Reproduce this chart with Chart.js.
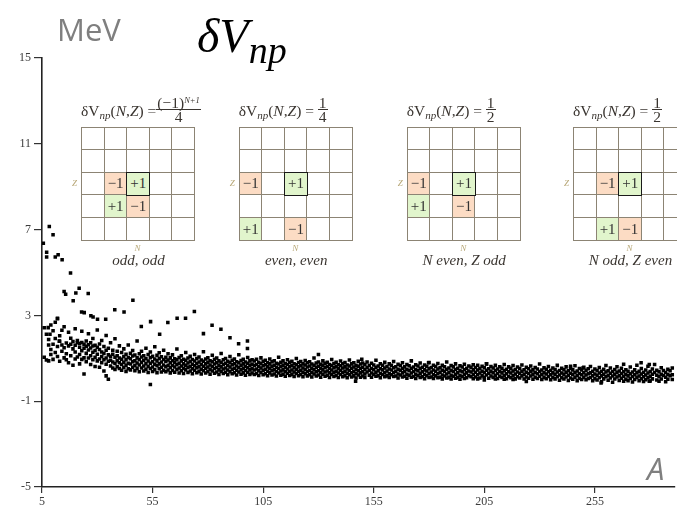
<!DOCTYPE html>
<html>
<head>
<meta charset="utf-8">
<script src="https://cdn.jsdelivr.net/npm/chart.js@4.4.1/dist/chart.umd.min.js"></script>
<style>
html,body{margin:0;padding:0;background:#fff}
#wrap{position:relative;width:677px;height:512px;overflow:hidden;background:#fff}
#plot{position:absolute;left:0;top:0}
.lbl{position:absolute;white-space:nowrap;line-height:1}
.unit{font-family:'Open Sans',sans-serif;font-size:31px;color:#7f7f7f}
.title{font-family:'Liberation Serif',serif;font-style:italic;font-size:48px;color:#000}
.title sub{font-size:38px;vertical-align:-11px}
.axisA{font-family:'Open Sans',sans-serif;font-style:italic;font-size:31px;color:#7f7f7f}
.fx{position:absolute;font:15.5px 'Liberation Serif',serif;color:#3a3530;white-space:nowrap;line-height:1;z-index:5}
.fx sub{font-size:11px;font-style:italic;vertical-align:-3px}
.frac{display:inline-block;vertical-align:-6.5px;text-align:center;line-height:0.85}
.frac .num{display:block;border-bottom:1px solid #3a3530;padding:0 1px}
.frac .num sup{font-size:8.5px;font-style:italic;vertical-align:5px}
.frac .den{display:block}
.grid{position:absolute;width:114px;height:114px}
.cell{position:absolute;box-sizing:border-box;border:1.5px solid #8c8474;background:#fff;
  font:15px 'Liberation Serif',serif;color:#333;display:flex;align-items:center;justify-content:center}
.cell.neg{background:#fcdcc4}
.cell.pos{background:#e1f5cc}
.cell.hit{border-color:#1a1a1a;z-index:2}
.cap{position:absolute;font:italic 15px 'Liberation Serif',serif;color:#3a3530;white-space:nowrap;transform:translateX(-50%)}
.tiny{position:absolute;font:italic 9px 'Liberation Serif',serif;color:#b8a878}
</style>
</head>
<body>
<div id="wrap">
  <canvas id="plot" width="677" height="512"></canvas>
  <div class="lbl unit" style="left:57px;top:14px">MeV</div>
  <div class="lbl title" style="left:197px;top:12px">δV<sub>np</sub></div>
  <div class="lbl axisA" style="left:647px;top:453px">A</div>
</div>
<script>
// axis ticks
const xTicks = [5, 55, 105, 155, 205, 255];
const yTicks = [-5, -1, 3, 7, 11, 15];

// light nuclei sitting well above the main band: [A, dVnp]
const lightOutliers = [
  [5.6, 6.36], [8.3, 7.14], [10, 6.76], [7.1, 5.94], [7.1, 5.72], [11, 5.72], [12.3, 5.83], [14.1, 5.59],
  [17.9, 4.98], [15, 4.11], [15.7, 3.99], [19.1, 3.68], [20.3, 4.04], [21.8, 4.27], [25.9, 4.02],
  [22.9, 3.16], [24.1, 3.13], [27.1, 2.98], [28.1, 2.93], [30.1, 2.82], [33.8, 2.82], [37.9, 3.26],
  [42.1, 3.16], [46.1, 3.71], [49.9, 2.48], [54.1, 2.71], [58.2, 2.12], [61.9, 2.67], [66.1, 2.87],
  [69.9, 2.87], [73.9, 3.18], [78, 2.15], [81.9, 2.54], [85.9, 2.35], [90, 1.96], [93.9, 1.68],
  [97.9, 1.81], [97.9, 1.46], [130, 1.18], [12, 2.87], [7.8, 2.43], [8.6, 2.12], [12.8, 1.8]
];

// heavier nuclei off the band edges: [A, dVnp]
const heavyOutliers = [
  [149.6, 0.96], [179.8, 0.79], [206, 0.74], [244, 0.63], [249.6, 0.55], [275.9, 0.79], [279.6, 0.71],
  [146.8, -0.07], [257.8, -0.15], [279.6, -0.07]
];

// main band, one row per mass number: [A, dVnp values...]
const bandLight = [
  [6, 2.42, 1.05], [7, 2.12, 0.92], [8, 1.88, 1.62, 0.88], [9, 2.55, 1.41, 1.18], [10, 2.28, 1.66, 0.95],
  [11, 1.92, 1.27, 2.68], [12, 2.84, 1.55, 1.08], [13, 2.05, 1.79, 0.86], [14, 1.62, 1.33, 2.31],
  [15, 2.47, 1.49, 1.02], [16, 1.71, 1.21, 0.93], [17, 2.21, 1.58, 0.79], [18, 1.93, 1.66, 1.12],
  [19, 1.78, 1.44, 0.68], [20, 2.38, 1.61, 1.29, 0.97], [21, 1.83, 1.72, 1.06], [22, 1.69, 1.52, 1.18, 0.74],
  [23, 2.26, 1.74, 1.35, 0.95], [24, 1.65, 1.47, 1.02, 0.27], [25, 1.81, 1.56, 1.23, 0.84],
  [26, 2.14, 1.63, 1.39, 1.01], [27, 1.72, 1.48, 1.12, 0.71], [28, 1.92, 1.57, 1.28, 0.93],
  [29, 1.61, 1.36, 1.05, 0.62], [30, 2.32, 1.52, 1.19, 0.88], [31, 1.67, 1.41, 0.97, 0.58],
  [32, 1.83, 1.29, 1.08, 0.79], [33, 1.55, 1.22, 0.93, 0.41], [34, 2.06, 1.38, 1.01, 0.72, 0.18],
  [35, 1.47, 1.16, 0.86, 0.02], [36, 1.72, 1.09, 0.91, 0.64], [37, 1.38, 1.19, 0.83, 0.55],
  [38, 1.91, 1.05, 0.76, 0.48], [39, 1.33, 1.12, 0.89, 0.61], [40, 1.58, 1.01, 0.79, 0.52],
  [41, 1.27, 0.96, 0.71, 0.44], [42, 1.44, 1.08, 0.82, 0.57], [43, 1.19, 0.93, 0.68, 0.39],
  [44, 1.62, 1.04, 0.77, 0.51], [45, 1.23, 0.98, 0.73, 0.46], [46, 1.36, 1.11, 0.84, 0.58],
  [47, 1.15, 0.89, 0.66, 0.42], [48, 1.81, 1.02, 0.78, 0.53], [49, 1.21, 0.94, 0.69, 0.37],
  [50, 1.33, 1.06, 0.81, 0.55], [51, 1.12, 0.91, 0.64, 0.41], [52, 1.47, 0.99, 0.75, 0.49],
  [53, 1.18, 0.87, 0.62, 0.34], [54, 1.29, 1.03, 0.77, 0.52, -0.22], [55, 1.09, 0.84, 0.59, 0.38],
  [56, 1.54, 0.97, 0.72, 0.47], [57, 1.14, 0.88, 0.65, 0.33], [58, 1.26, 0.99, 0.74, 0.51],
  [59, 1.07, 0.83, 0.58, 0.36], [60, 1.38, 0.94, 0.69, 0.44]
];
const bandMid = [
  [61, 1.05, 0.86, 0.61, 0.37], [62, 1.21, 0.92, 0.68, 0.45], [63, 1.02, 0.79, 0.57, 0.32],
  [64, 1.16, 0.89, 0.66, 0.43], [65, 0.98, 0.81, 0.59, 0.35], [66, 1.43, 0.93, 0.71, 0.48],
  [67, 1.04, 0.77, 0.55, 0.31], [68, 1.12, 0.88, 0.64, 0.42], [69, 0.96, 0.74, 0.53, 0.29],
  [70, 1.27, 0.91, 0.67, 0.46], [71, 1.01, 0.78, 0.58, 0.34], [72, 1.09, 0.85, 0.62, 0.41],
  [73, 0.94, 0.72, 0.51, 0.28], [74, 1.18, 0.87, 0.65, 0.44], [75, 0.99, 0.76, 0.56, 0.33],
  [76, 1.06, 0.83, 0.61, 0.39], [77, 0.92, 0.71, 0.49, 0.27], [78, 1.31, 0.86, 0.63, 0.42],
  [79, 0.97, 0.74, 0.54, 0.31], [80, 1.03, 0.81, 0.59, 0.38], [81, 0.89, 0.69, 0.48, 0.26],
  [82, 1.14, 0.84, 0.62, 0.41], [83, 0.95, 0.73, 0.52, 0.3], [84, 1.01, 0.79, 0.57, 0.36],
  [85, 0.88, 0.67, 0.46, 0.24], [86, 1.22, 0.82, 0.6, 0.39], [87, 0.93, 0.71, 0.5, 0.29],
  [88, 0.99, 0.77, 0.55, 0.35], [89, 0.86, 0.66, 0.45, 0.23], [90, 1.08, 0.8, 0.59, 0.37],
  [91, 0.91, 0.7, 0.49, 0.28], [92, 0.97, 0.75, 0.54, 0.33], [93, 0.84, 0.64, 0.44, 0.22],
  [94, 1.17, 0.79, 0.57, 0.36], [95, 0.9, 0.68, 0.47, 0.26], [96, 0.95, 0.74, 0.53, 0.32],
  [97, 0.83, 0.63, 0.43, 0.21], [98, 1.04, 0.77, 0.56, 0.35], [99, 0.88, 0.67, 0.46, 0.25],
  [100, 0.93, 0.72, 0.51, 0.31], [101, 0.87, 0.66, 0.45, 0.24], [102, 0.96, 0.71, 0.5, 0.29],
  [103, 0.82, 0.62, 0.42, 0.2], [104, 1.02, 0.76, 0.55, 0.34], [105, 0.86, 0.65, 0.44, 0.23],
  [106, 0.91, 0.7, 0.49, 0.28], [107, 0.79, 0.6, 0.4, 0.19], [108, 0.97, 0.74, 0.53, 0.32],
  [109, 0.84, 0.63, 0.43, 0.22], [110, 0.89, 0.68, 0.47, 0.27], [111, 0.77, 0.58, 0.38, 0.17],
  [112, 1.05, 0.73, 0.52, 0.31], [113, 0.82, 0.62, 0.41, 0.21], [114, 0.88, 0.67, 0.46, 0.26],
  [115, 0.76, 0.57, 0.37, 0.16], [116, 0.93, 0.71, 0.5, 0.3], [117, 0.81, 0.61, 0.4, 0.2],
  [118, 0.86, 0.66, 0.45, 0.25], [119, 0.75, 0.56, 0.36, 0.15], [120, 0.99, 0.7, 0.49, 0.29],
  [121, 0.8, 0.6, 0.39, 0.19], [122, 0.85, 0.65, 0.44, 0.24], [123, 0.74, 0.55, 0.35, 0.14],
  [124, 0.9, 0.69, 0.48, 0.28], [125, 0.79, 0.59, 0.38, 0.18], [126, 0.84, 0.64, 0.43, 0.23],
  [127, 0.73, 0.54, 0.34, 0.13], [128, 1.01, 0.68, 0.47, 0.27], [129, 0.78, 0.58, 0.37, 0.17],
  [130, 0.83, 0.63, 0.42, 0.22], [131, 0.72, 0.53, 0.33, 0.12], [132, 0.88, 0.67, 0.46, 0.26],
  [133, 0.77, 0.57, 0.36, 0.16], [134, 0.82, 0.62, 0.41, 0.21], [135, 0.71, 0.52, 0.32, 0.11],
  [136, 0.94, 0.66, 0.45, 0.25], [137, 0.76, 0.56, 0.35, 0.15], [138, 0.81, 0.61, 0.4, 0.2],
  [139, 0.7, 0.51, 0.31, 0.1], [140, 0.87, 0.65, 0.44, 0.24], [141, 0.75, 0.55, 0.34, 0.14],
  [142, 0.8, 0.6, 0.39, 0.19], [143, 0.69, 0.5, 0.3, 0.09], [144, 0.92, 0.64, 0.43, 0.23],
  [145, 0.74, 0.54, 0.33, 0.13], [146, 0.79, 0.59, 0.38, 0.18], [147, 0.68, 0.49, 0.29, 0.08],
  [148, 0.86, 0.63, 0.42, 0.22], [149, 0.73, 0.53, 0.32, 0.12], [150, 0.78, 0.58, 0.37, 0.17]
];
const bandHeavy = [
  [151, 0.71, 0.48, 0.27, 0.1], [152, 0.83, 0.57, 0.36], [153, 0.66, 0.44, 0.21], [154, 0.77, 0.52, 0.31, 0.12],
  [155, 0.69, 0.47, 0.25], [156, 0.91, 0.58, 0.35, 0.16], [157, 0.64, 0.42, 0.19], [158, 0.75, 0.51, 0.29, 0.09],
  [159, 0.68, 0.46, 0.24], [160, 0.81, 0.55, 0.33, 0.14], [161, 0.62, 0.41, 0.18], [162, 0.74, 0.5, 0.28, 0.11],
  [163, 0.67, 0.45, 0.23], [164, 0.85, 0.56, 0.34, 0.15], [165, 0.61, 0.4, 0.17], [166, 0.72, 0.49, 0.27, 0.08],
  [167, 0.66, 0.44, 0.22], [168, 0.79, 0.53, 0.32, 0.13], [169, 0.6, 0.39, 0.16], [170, 0.71, 0.48, 0.26, 0.07],
  [171, 0.65, 0.43, 0.21], [172, 0.88, 0.54, 0.31, 0.12], [173, 0.59, 0.38, 0.15], [174, 0.7, 0.47, 0.25, 0.06],
  [175, 0.64, 0.42, 0.2], [176, 0.78, 0.52, 0.3, 0.11], [177, 0.58, 0.37, 0.14], [178, 0.69, 0.46, 0.24, 0.05],
  [179, 0.63, 0.41, 0.19], [180, 0.8, 0.51, 0.29, 0.1], [181, 0.57, 0.36, 0.13], [182, 0.68, 0.45, 0.23, 0.06],
  [183, 0.62, 0.4, 0.18], [184, 0.76, 0.5, 0.28, 0.09], [185, 0.56, 0.35, 0.12], [186, 0.67, 0.44, 0.22, 0.04],
  [187, 0.61, 0.39, 0.17], [188, 0.83, 0.49, 0.27, 0.08], [189, 0.55, 0.34, 0.11], [190, 0.66, 0.43, 0.21, 0.03],
  [191, 0.6, 0.38, 0.16], [192, 0.74, 0.48, 0.26, 0.07], [193, 0.54, 0.33, 0.1], [194, 0.65, 0.42, 0.2, 0.02],
  [195, 0.59, 0.37, 0.15], [196, 0.72, 0.47, 0.25, 0.06], [197, 0.53, 0.32, 0.09], [198, 0.64, 0.41, 0.19],
  [199, 0.58, 0.36, 0.14], [200, 0.7, 0.46, 0.24, 0.05], [201, 0.57, 0.35, 0.13], [202, 0.68, 0.45, 0.23, 0.04],
  [203, 0.52, 0.31, 0.08], [204, 0.63, 0.4, 0.18], [205, 0.56, 0.34, 0.12, -0.01], [206, 0.74, 0.44, 0.22],
  [207, 0.51, 0.3, 0.07], [208, 0.62, 0.39, 0.17], [209, 0.55, 0.33, 0.11], [210, 0.67, 0.43, 0.21, 0.03],
  [211, 0.5, 0.29, 0.06], [212, 0.61, 0.38, 0.16], [213, 0.54, 0.32, 0.1], [214, 0.71, 0.42, 0.2, 0.02],
  [215, 0.49, 0.28, 0.05], [216, 0.6, 0.37, 0.15], [217, 0.53, 0.31, 0.09], [218, 0.66, 0.41, 0.19, 0.01],
  [219, 0.48, 0.27, 0.04], [220, 0.59, 0.36, 0.14], [221, 0.52, 0.3, 0.08], [222, 0.69, 0.4, 0.18],
  [223, 0.47, 0.26, 0.03], [224, 0.58, 0.35, 0.13, -0.08], [225, 0.51, 0.29, 0.07], [226, 0.64, 0.39, 0.17],
  [227, 0.46, 0.25, 0.02], [228, 0.57, 0.34, 0.12], [229, 0.5, 0.28, 0.06], [230, 0.73, 0.38, 0.16],
  [231, 0.45, 0.24, 0.01], [232, 0.56, 0.33, 0.11], [233, 0.49, 0.27, 0.05], [234, 0.62, 0.37, 0.15],
  [235, 0.44, 0.23, 0], [236, 0.55, 0.32, 0.1], [237, 0.48, 0.26, 0.04], [238, 0.67, 0.36, 0.14],
  [239, 0.43, 0.22, -0.02], [240, 0.54, 0.31, 0.09], [241, 0.47, 0.25, 0.03], [242, 0.6, 0.35, 0.13],
  [243, 0.42, 0.21, -0.03], [244, 0.53, 0.3, 0.08], [245, 0.46, 0.24, 0.02], [246, 0.65, 0.34, 0.12],
  [247, 0.41, 0.2, -0.04], [248, 0.52, 0.29, 0.07], [249, 0.45, 0.23, 0.01], [250, 0.58, 0.33, 0.11],
  [251, 0.44, 0.22, 0], [252, 0.51, 0.28, 0.06], [253, 0.62, 0.32, 0.1], [254, 0.4, 0.19, -0.05],
  [255, 0.5, 0.27, 0.05], [256, 0.43, 0.21, -0.01], [257, 0.57, 0.31, 0.09], [258, 0.39, 0.18, -0.09],
  [259, 0.49, 0.26, 0.04], [260, 0.66, 0.36, 0.14], [261, 0.42, 0.2, -0.02], [262, 0.55, 0.3, 0.08],
  [263, 0.38, 0.17, -0.12], [264, 0.48, 0.25, 0.03], [265, 0.61, 0.35, 0.13], [266, 0.41, 0.19, -0.03],
  [267, 0.54, 0.29, 0.07], [268, 0.72, 0.37, 0.16, -0.07], [269, 0.47, 0.24, 0.02], [270, 0.4, 0.18, -0.04],
  [271, 0.59, 0.28, 0.06], [272, 0.36, 0.15, -0.1], [273, 0.46, 0.23, 0.01], [274, 0.68, 0.33, 0.11],
  [275, 0.39, 0.17, -0.05], [276, 0.52, 0.27, 0.05], [277, 0.35, 0.14, -0.08], [278, 0.45, 0.22, 0],
  [279, 0.63, 0.31, 0.09], [280, 0.38, 0.16, -0.06], [281, 0.5, 0.26, 0.04], [282, 0.71, 0.34],
  [283, 0.44, 0.21, -0.01], [284, 0.37, 0.15, -0.07], [285, 0.56, 0.25, 0.03], [286, 0.43, 0.2],
  [287, 0.34, 0.12, -0.09], [288, 0.49, 0.24, 0.02], [289, 0.42, 0.19], [290, 0.55, 0.23, 0.01]
];

// the four pairing-filter stencils shown over the plot
const stencils = [
  { left: 81,  rhs: 'frac', caption: 'odd, odd',
    cells: [[2, 1, '−1'], [2, 2, '+1'], [3, 1, '+1'], [3, 2, '−1']] },
  { left: 238.7, rhs: '1/4', caption: 'even, even',
    cells: [[2, 0, '−1'], [2, 2, '+1'], [4, 0, '+1'], [4, 2, '−1']] },
  { left: 406.7, rhs: '1/2', caption: 'N even, Z odd',
    cells: [[2, 0, '−1'], [2, 2, '+1'], [3, 0, '+1'], [3, 2, '−1']] },
  { left: 573, rhs: '1/2', caption: 'N odd, Z even',
    cells: [[2, 1, '−1'], [2, 2, '+1'], [4, 1, '+1'], [4, 2, '−1']] }
];

const points = [];
[bandLight, bandMid, bandHeavy].forEach(rows =>
  rows.forEach(([a, ...vs]) => vs.forEach(v => points.push({ x: a, y: v }))));
lightOutliers.concat(heavyOutliers).forEach(([a, v]) => points.push({ x: a, y: v }));

const tickFont = { family: "'Liberation Serif', serif", size: 12 };

new Chart(document.getElementById('plot'), {
  type: 'scatter',
  data: { datasets: [{ data: points, pointStyle: 'rect', pointRadius: 2.5, pointHoverRadius: 2.5,
    backgroundColor: '#000', borderWidth: 0 }] },
  options: {
    responsive: false, animation: false, events: [],
    layout: { padding: { top: 58, right: 0, left: 0, bottom: 0 } },
    plugins: { legend: { display: false }, tooltip: { enabled: false } },
    scales: {
      x: {
        type: 'linear', min: 5, max: 291,
        afterBuildTicks: s => { s.ticks = xTicks.map(v => ({ value: v })); },
        afterFit: s => { s.height = 25; },
        grid: { drawOnChartArea: false, tickLength: 6, color: '#333', lineWidth: 1.2 },
        border: { color: '#222', width: 1.6 },
        ticks: { font: tickFont, color: '#3c3c3c', padding: 2, maxRotation: 0, autoSkip: false }
      },
      y: {
        type: 'linear', min: -5, max: 15,
        afterBuildTicks: s => { s.ticks = yTicks.map(v => ({ value: v })); },
        afterFit: s => { s.width = 42; },
        grid: { drawOnChartArea: false, tickLength: 8, color: '#333', lineWidth: 1.2 },
        border: { color: '#222', width: 1.6 },
        ticks: { font: tickFont, color: '#3c3c3c', padding: 3 }
      }
    }
  }
});

// stencil overlays
const wrap = document.getElementById('wrap');
const GRID_TOP = 126.7, CELL = 22.6;
stencils.forEach(st => {
  const fx = document.createElement('div');
  fx.className = 'fx';
  fx.style.left = st.left + 'px';
  fx.style.top = '96px';
  let rhs;
  if (st.rhs === 'frac') rhs = '<span class="frac"><span class="num">(−1)<sup>N+1</sup></span><span class="den">4</span></span>';
  else { const [n, d] = st.rhs.split('/'); rhs = `<span class="frac"><span class="num">${n}</span><span class="den">${d}</span></span>`; }
  fx.innerHTML = `δV<sub>np</sub>(<i>N</i>,<i>Z</i>) ${st.rhs === 'frac' ? '=' : '= '}${rhs}`;
  wrap.appendChild(fx);

  const g = document.createElement('div');
  g.className = 'grid';
  g.style.left = st.left + 'px';
  g.style.top = GRID_TOP + 'px';
  for (let r = 0; r < 5; r++) for (let c = 0; c < 5; c++) {
    const cell = document.createElement('div');
    cell.className = 'cell';
    const mark = st.cells.find(m => m[0] === r && m[1] === c);
    if (mark) {
      cell.textContent = mark[2];
      cell.classList.add(mark[2] === '+1' ? 'pos' : 'neg');
      if (r === 2 && c === 2) cell.classList.add('hit');
    }
    Object.assign(cell.style, { left: (c * CELL) + 'px', top: (r * CELL) + 'px',
      width: (CELL + 1.5) + 'px', height: (CELL + 1.5) + 'px' });
    g.appendChild(cell);
  }
  wrap.appendChild(g);

  const z = document.createElement('div');
  z.className = 'tiny'; z.textContent = 'Z';
  z.style.left = (st.left - 9) + 'px'; z.style.top = (GRID_TOP + 2.5 * CELL - 5) + 'px';
  wrap.appendChild(z);
  const n = document.createElement('div');
  n.className = 'tiny'; n.textContent = 'N';
  n.style.left = (st.left + 2.5 * CELL - 3) + 'px'; n.style.top = (GRID_TOP + 5 * CELL + 3) + 'px';
  wrap.appendChild(n);

  const cap = document.createElement('div');
  cap.className = 'cap'; cap.textContent = st.caption;
  cap.style.left = (st.left + 2.5 * CELL + 1) + 'px'; cap.style.top = (GRID_TOP + 5 * CELL + 12) + 'px';
  wrap.appendChild(cap);
});
</script>
</body>
</html>
